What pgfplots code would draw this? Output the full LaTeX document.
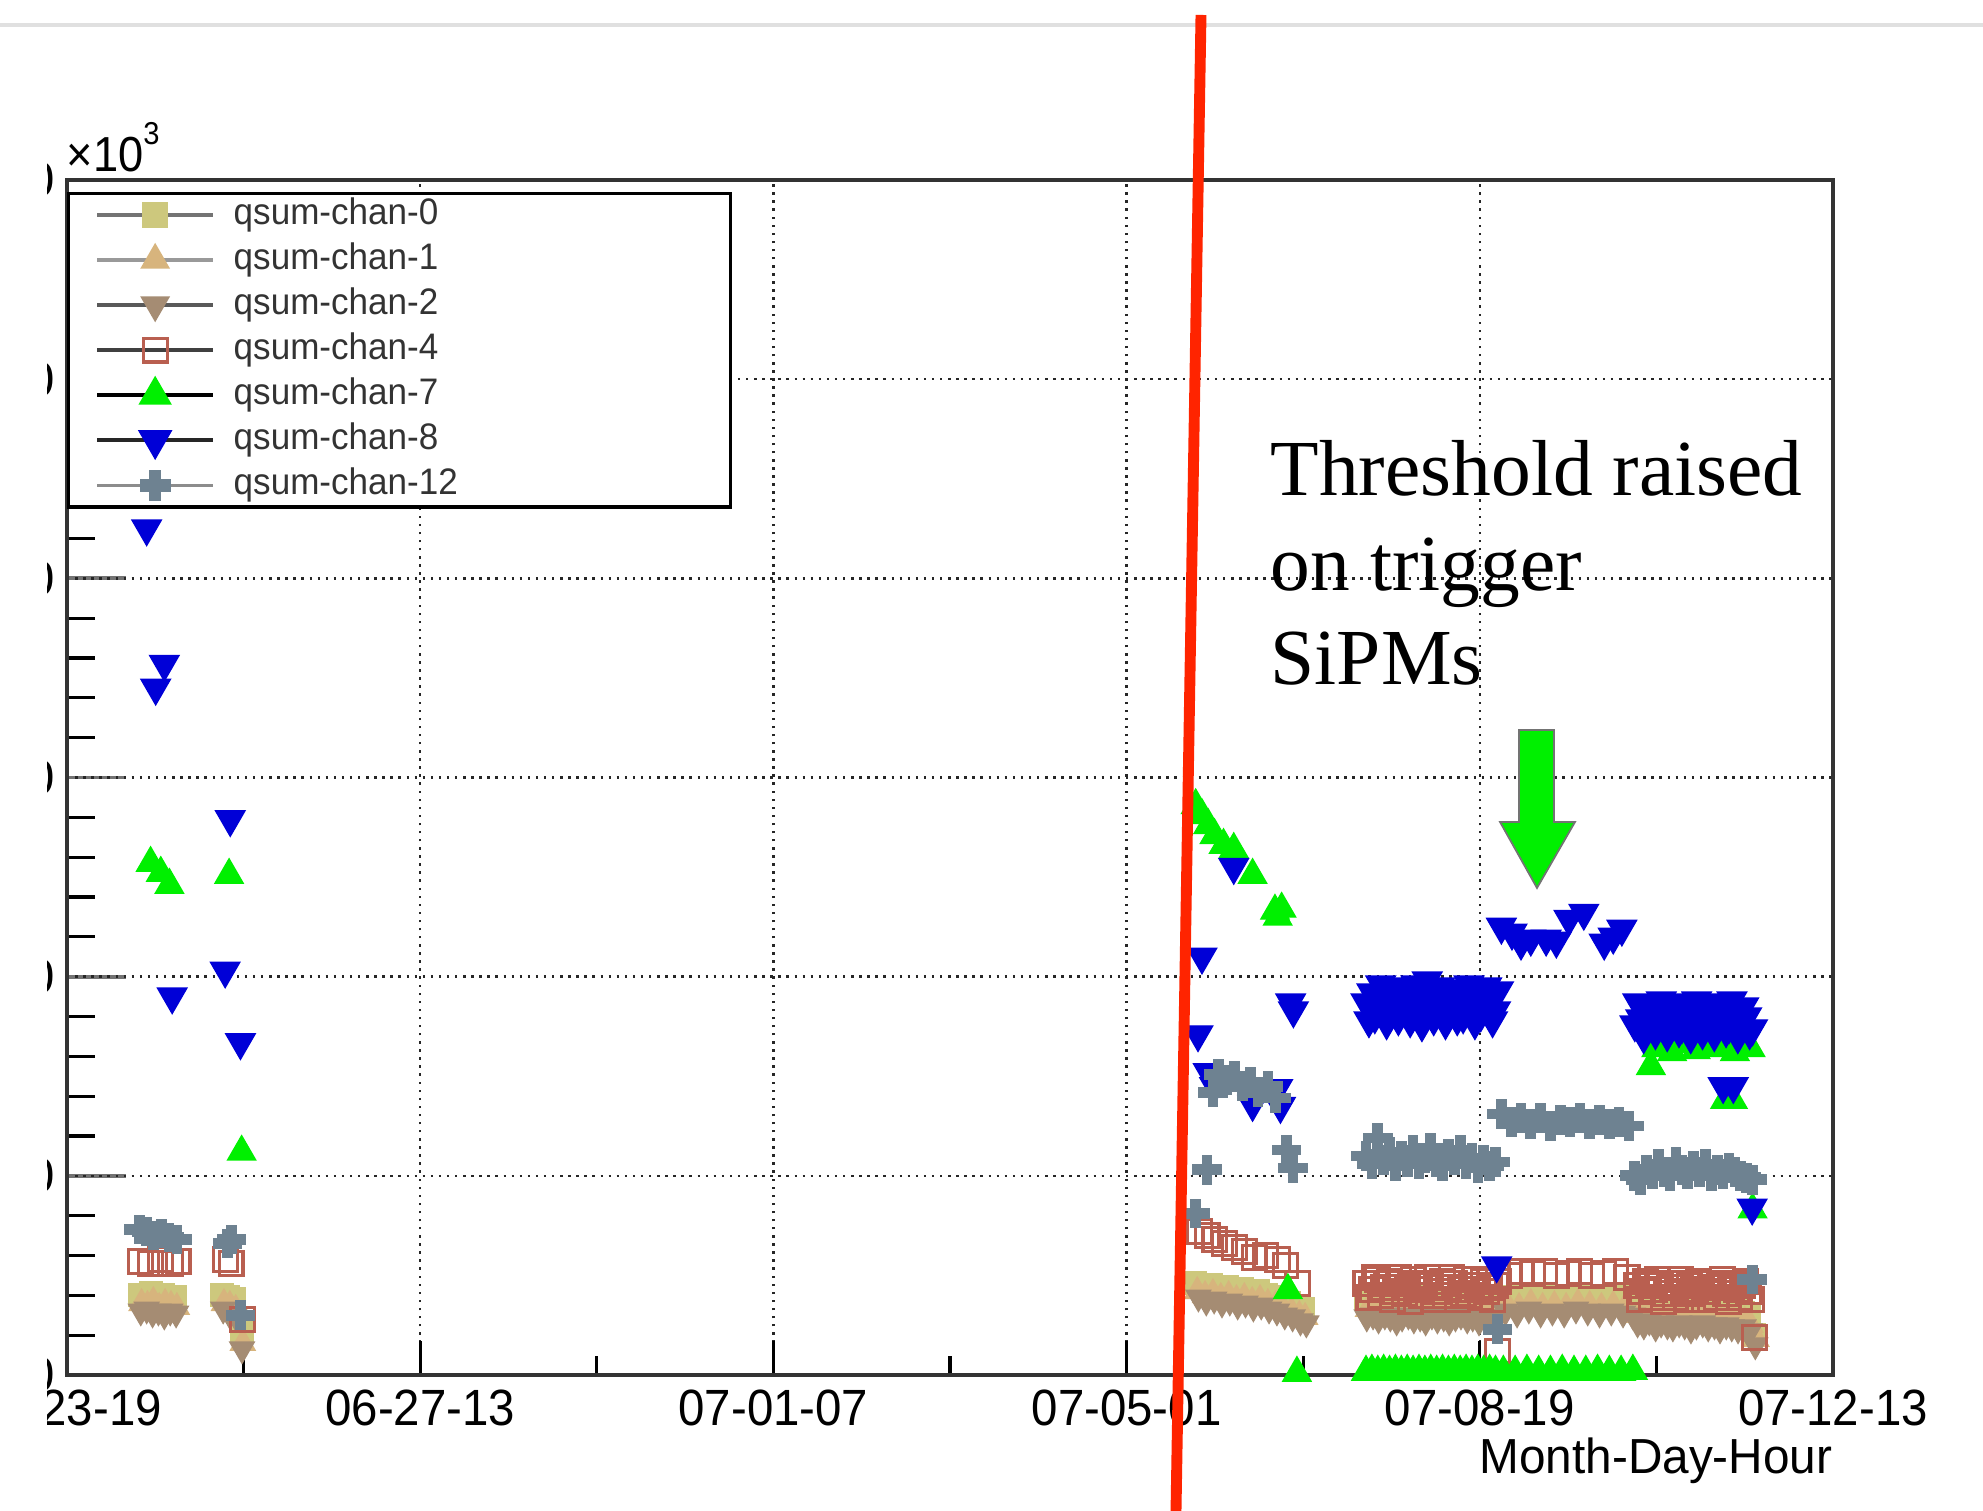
\documentclass[border=0pt]{standalone}
\usepackage{pgfplots}
\pgfplotsset{compat=1.18}
\usepackage{graphicx}
\usepackage{fontspec}
\setmainfont{Liberation Sans}
\newfontfamily\timesf{Liberation Serif}

\definecolor{c0}{RGB}{205,200,125}
\definecolor{c1}{RGB}{215,180,125}
\definecolor{c2}{RGB}{165,140,115}
\definecolor{c4}{RGB}{185,95,80}
\definecolor{c7}{RGB}{0,240,0}
\definecolor{c8}{RGB}{0,0,215}
\definecolor{c12}{RGB}{110,130,145}
\definecolor{redline}{RGB}{255,36,0}

\pgfdeclareplotmark{fcross}{%
  \pgfpathmoveto{\pgfqpoint{-0.33\pgfplotmarksize}{\pgfplotmarksize}}%
  \pgfpathlineto{\pgfqpoint{0.33\pgfplotmarksize}{\pgfplotmarksize}}%
  \pgfpathlineto{\pgfqpoint{0.33\pgfplotmarksize}{0.33\pgfplotmarksize}}%
  \pgfpathlineto{\pgfqpoint{\pgfplotmarksize}{0.33\pgfplotmarksize}}%
  \pgfpathlineto{\pgfqpoint{\pgfplotmarksize}{-0.33\pgfplotmarksize}}%
  \pgfpathlineto{\pgfqpoint{0.33\pgfplotmarksize}{-0.33\pgfplotmarksize}}%
  \pgfpathlineto{\pgfqpoint{0.33\pgfplotmarksize}{-\pgfplotmarksize}}%
  \pgfpathlineto{\pgfqpoint{-0.33\pgfplotmarksize}{-\pgfplotmarksize}}%
  \pgfpathlineto{\pgfqpoint{-0.33\pgfplotmarksize}{-0.33\pgfplotmarksize}}%
  \pgfpathlineto{\pgfqpoint{-\pgfplotmarksize}{-0.33\pgfplotmarksize}}%
  \pgfpathlineto{\pgfqpoint{-\pgfplotmarksize}{0.33\pgfplotmarksize}}%
  \pgfpathlineto{\pgfqpoint{-0.33\pgfplotmarksize}{0.33\pgfplotmarksize}}%
  \pgfpathclose
  \pgfusepathqfillstroke}

\pgfplotsset{limg/.style={legend image code/.code={%
  \draw[line width=0.9pt,#1] (0cm,0cm) -- (1.16cm,0cm);
  \draw[##1] plot coordinates {(0.58cm,0cm)};}}}

\newcommand\tl[1]{\scalebox{0.93}[1]{#1}}
\newcommand\lgent[1]{\makebox[4.7cm][l]{\scalebox{0.95}[1]{#1}}}

\begin{document}
\begin{tikzpicture}
\useasboundingbox (0,0) rectangle (19.83cm,15.11cm);
\draw[black!12, line width=1pt] (0,14.86cm) -- (19.83cm,14.86cm);
\begin{scope}
\clip (0.47cm,0) rectangle (19.83cm,15.11cm);
% y-axis ticks and labels
\begin{axis}[
  scale only axis, width=17.66cm, height=11.95cm,
  at={(0.67cm,1.36cm)}, anchor=south west,
  xmin=0, xmax=450, ymin=0, ymax=60,
  hide x axis,
  axis y line*=left,
  y axis line style={draw=none},
  ytick={0,10,...,60}, minor y tick num=4,
  tick align=inside,
  major tick length=0.59cm, minor tick length=0.28cm,
  every major tick/.append style={black!55,line width=1.1pt},
  every minor tick/.append style={black,line width=0.9pt},
  /pgf/number format/assume math mode=true,
  yticklabel style={font=\fontsize{14}{16}\selectfont, inner sep=0pt, xshift=-0.11cm},
]
\addplot[draw=none] coordinates {(0,0)};
\end{axis}
\begin{axis}[
  name=main,
  scale only axis, width=17.66cm, height=11.95cm,
  at={(0.67cm,1.36cm)}, anchor=south west,
  xmin=0, xmax=450, ymin=0, ymax=60,
  xtick={0,90,...,450}, minor x tick num=1,
  xticklabels={\tl{06-23-19},\tl{06-27-13},\tl{07-01-07},\tl{07-05-01},\tl{07-08-19},\tl{07-12-13}},
  xtick pos=bottom,
  tick align=inside,
  major tick length=0.34cm, minor tick length=0.19cm,
  xtick style={black, line width=0.9pt},
  ytick={10,20,...,50}, yticklabels={}, ytick style={draw=none},
  xmajorgrids, ymajorgrids,
  major grid style={black!85, line width=0.7pt, dash pattern=on 0.7pt off 1.6pt},
  axis line style={black!80, line width=1pt},
  xticklabel style={font=\fontsize{14.5}{16}\selectfont, inner sep=0pt, yshift=-0.14cm},
  xlabel={\scalebox{0.97}[1]{Month-Day-Hour}},
  xlabel style={at={(axis description cs:1,0)}, anchor=north east, inner sep=0pt, yshift=-0.62cm, font=\fontsize{14}{16}\selectfont},
  legend cell align=left,
  legend style={at={(0,1)}, anchor=north west, yshift=-0.12cm, draw=black, line width=0.9pt, fill=white,
    inner xsep=0.27cm, inner ysep=0.05cm, column sep=0.19cm, row sep=0.12cm,
    font=\fontsize{10.5}{12}\selectfont, text=black!80,
    nodes={inner sep=0pt, text height=0.26cm, text depth=0.07cm}},
]
% chan-0
\addplot[only marks, mark=square*, mark size=3.2pt, color=c0, limg=black!55] coordinates {
(18.5,4.0)(20,3.9)(21.5,4.1)(23,3.9)(24.5,4.0)(26,3.8)(27.5,3.9)
(39.5,4.0)(41,3.9)(42.5,3.8)(44.5,2.2)
(287.5,4.6)(289.5,4.4)(291.5,4.5)(293.5,4.3)(295.5,4.4)(297.5,4.2)(299.5,4.3)(301.5,4.1)(303.5,4.2)(305.5,4.0)(307.5,3.9)(309.5,3.8)(311.5,3.6)(313.5,3.4)(315,3.3)
(331,3.8)(332.5,3.7)(334,3.9)(335.5,3.7)(337,3.8)(338.5,3.6)(340,3.8)(341.5,3.7)(343,3.9)(344.5,3.7)(346,3.8)(347.5,3.6)(349,3.8)(350.5,3.7)(352,3.8)(353.5,3.6)(355,3.8)(356.5,3.7)(358,3.9)(359.5,3.7)(361,3.8)(362.5,3.6)(364,3.7)
(366,3.9)(369,3.8)(372,3.9)(375,3.8)(378,3.9)(381,3.8)(384,3.9)(387,3.8)(390,3.9)(393,3.8)(396,3.9)(399,3.8)
(400,3.4)(401.5,3.3)(403,3.5)(404.5,3.3)(406,3.4)(407.5,3.2)(409,3.4)(410.5,3.3)(412,3.4)(413.5,3.2)(415,3.3)(416.5,3.4)(418,3.2)(419.5,3.3)(421,3.4)(422.5,3.2)(424,3.3)(425.5,3.2)(427,3.1)(428.5,3.0)(430,2.0)
};
\addlegendentry{\lgent{qsum-chan-0}}
% chan-1
\addplot[only marks, mark=triangle*, mark size=4pt, color=c1, limg=black!40] coordinates {
(19,3.6)(20.5,3.5)(22,3.7)(23.5,3.4)(25,3.6)(26.5,3.5)(28,3.4)
(40,3.6)(41.5,3.5)(43,3.3)(44.8,1.6)
(288,4.2)(290,4.0)(292,4.1)(294,3.9)(296,4.0)(298,3.8)(300,3.9)(302,3.7)(304,3.8)(306,3.6)(308,3.5)(310,3.3)(312,3.2)(314,3.0)(315.5,2.9)
(331.5,3.3)(333,3.2)(334.5,3.4)(336,3.1)(337.5,3.3)(339,3.2)(340.5,3.4)(342,3.1)(343.5,3.3)(345,3.2)(346.5,3.0)(348,3.3)(349.5,3.1)(351,3.2)(352.5,3.4)(354,3.1)(355.5,3.3)(357,3.2)(358.5,3.0)(360,3.3)(361.5,3.1)(363,3.2)(364.5,3.3)
(367,3.5)(370,3.4)(373,3.6)(376,3.4)(379,3.5)(382,3.4)(385,3.6)(388,3.5)(391,3.4)(394,3.5)(397,3.4)
(400.5,3.0)(402,2.9)(403.5,3.1)(405,2.8)(406.5,3.0)(408,2.9)(409.5,2.8)(411,3.0)(412.5,2.9)(414,2.7)(415.5,2.9)(417,3.0)(418.5,2.8)(420,2.9)(421.5,2.7)(423,2.9)(424.5,2.8)(426,2.6)(427.5,2.7)(429,2.5)(430.5,1.8)
};
\addlegendentry{\lgent{qsum-chan-1}}
% chan-2
\addplot[only marks, mark=triangle*, mark size=4pt, mark options={rotate=180}, color=c2, limg=black!65] coordinates {
(18.8,3.2)(20.3,3.3)(21.8,3.1)(23.3,3.2)(24.8,3.0)(26.3,3.2)(27.8,3.1)
(39.8,3.3)(41.3,3.1)(42.8,3.0)(44.6,1.3)
(288.3,3.9)(290.3,3.7)(292.3,3.8)(294.3,3.6)(296.3,3.7)(298.3,3.5)(300.3,3.6)(302.3,3.4)(304.3,3.5)(306.3,3.3)(308.3,3.2)(310.3,3.0)(312.3,2.9)(314.3,2.7)(315.8,2.6)
(331.2,2.9)(332.8,3.0)(334.2,2.8)(335.8,3.0)(337.2,2.9)(338.8,2.7)(340.2,2.9)(341.8,3.0)(343.2,2.8)(344.8,2.9)(346.2,2.7)(347.8,3.0)(349.2,2.8)(350.8,2.9)(352.2,2.7)(353.8,2.9)(355.2,3.0)(356.8,2.8)(358.2,2.9)(359.8,2.7)(361.2,2.9)(362.8,2.8)(364.2,2.9)
(366.5,3.2)(369.5,3.1)(372.5,3.3)(375.5,3.1)(378.5,3.2)(381.5,3.1)(384.5,3.3)(387.5,3.2)(390.5,3.1)(393.5,3.2)(396.5,3.1)(399,3.0)
(400.2,2.6)(401.8,2.5)(403.2,2.7)(404.8,2.4)(406.2,2.6)(407.8,2.5)(409.2,2.4)(410.8,2.6)(412.2,2.5)(413.8,2.3)(415.2,2.5)(416.8,2.6)(418.2,2.4)(419.8,2.5)(421.2,2.3)(422.8,2.5)(424.2,2.4)(425.8,2.3)(427.2,2.4)(428.8,2.2)(430.2,1.5)
};
\addlegendentry{\lgent{qsum-chan-2}}
% chan-4
\addplot[only marks, mark=square, mark size=3.4pt, mark options={line width=0.9pt}, color=c4, limg=black!75] coordinates {
(18.8,5.7)(21.3,5.6)(23.8,5.8)(26.3,5.6)(28.3,5.7)
(40.3,5.8)(41.8,5.6)(44.8,2.8)
(288.5,7.2)(290.5,7.0)(292.5,6.8)(295,6.6)(297.5,6.4)(300,6.2)(302.5,5.9)(305.5,6.0)(308.5,5.8)(310.5,5.5)(313.5,4.6)
(331,4.6)(332.5,4.3)(334,4.8)(335.5,4.4)(337,4.7)(338.5,4.2)(340,4.6)(341.5,4.4)(343,4.8)(344.5,4.3)(346,4.6)(347.5,4.5)(349,4.2)(350.5,4.7)(352,4.4)(353.5,4.6)(355,4.3)(356.5,4.8)(358,4.5)(359.5,4.3)(361,4.7)(362.5,4.4)(364,4.5)
(331.75,3.9)(333.25,4.9)(334.75,4.0)(336.25,4.6)(337.75,3.8)(339.25,4.9)(340.75,4.1)(342.25,3.7)(343.75,4.5)(345.25,4.0)(346.75,4.9)(348.25,3.8)(349.75,4.4)(351.25,4.0)(352.75,4.9)(354.25,3.8)(355.75,4.1)(357.25,4.0)(358.75,4.8)(360.25,3.9)(361.75,4.2)(363.25,3.8)(364.75,4.7)
(364.5,1.2)
(367.5,5.0)(370.5,5.2)(373.5,5.1)(376.5,5.2)(379.5,5.0)(382.5,5.1)(385.5,5.2)(388.5,5.0)(391.5,5.1)(394.5,5.2)(397.5,4.9)
(400,4.5)(401.5,4.2)(403,4.6)(404.5,4.3)(406,4.5)(407.5,4.1)(409,4.4)(410.5,4.6)(412,4.2)(413.5,4.5)(415,4.3)(416.5,4.6)(418,4.2)(419.5,4.4)(421,4.5)(422.5,4.1)(424,4.4)(425.5,4.3)(427,4.5)(428.5,4.2)(430,1.9)
(400.75,3.8)(402.25,4.7)(403.75,3.9)(405.25,4.8)(406.75,3.7)(408.25,4.6)(409.75,3.9)(411.25,4.8)(412.75,3.8)(414.25,4.1)(415.75,4.7)(417.25,3.8)(418.75,4.6)(420.25,3.9)(421.75,4.8)(423.25,3.7)(424.75,4.6)(426.25,3.9)(427.75,4.7)(429.25,3.8)
};
\addlegendentry{\lgent{qsum-chan-4}}
% chan-7
\addplot[only marks, mark=triangle*, mark size=4.6pt, color=c7, limg=black] coordinates {
(21.3,25.7)(23.9,25.2)(26.1,24.6)(41.3,25.1)(44.5,11.2)
(287.6,28.6)(289.2,28.1)(290.8,27.6)(292.4,27.1)(294.7,26.6)(297.3,26.4)(302.1,25.1)(307.8,23.3)(308.5,23.0)(309.5,23.4)(311.1,4.25)(313.4,0.1)
(331,0.15)(332.5,0.2)(334,0.15)(335.5,0.2)(337,0.15)(338.5,0.2)(340,0.15)(341.5,0.2)(343,0.15)(344.5,0.2)(346,0.15)(347.5,0.2)(349,0.15)(350.5,0.2)(352,0.15)(353.5,0.2)(355,0.15)(356.5,0.2)(358,0.15)(359.5,0.2)(361,0.15)(362.5,0.2)(364,0.15)
(366,0.15)(369,0.15)(372,0.2)(375,0.15)(378,0.15)(381,0.2)(384,0.15)(387,0.15)(390,0.2)(393,0.15)(396,0.15)(399,0.2)
(403.6,15.5)(405,16.4)(407,16.8)(409,16.2)(411,16.6)(413,16.9)(415,16.3)(417,16.7)(419,16.4)(421,16.8)(423,16.5)(425,16.2)(427,16.6)(429,16.4)
(422.5,13.8)(424.5,13.8)(429.5,8.3)
};
\addlegendentry{\lgent{qsum-chan-7}}
% chan-8
\addplot[only marks, mark=triangle*, mark size=4.8pt, mark options={rotate=180}, color=c8, limg=black!85] coordinates {
(20.3,42.5)(22.6,34.5)(24.8,35.7)(26.8,19.0)(40.3,20.3)(41.6,27.9)(44.2,16.7)
(288.2,17.1)(289.2,21.0)(290.8,15.2)(292.4,14.5)(297.3,25.5)(302.1,13.6)(308.5,14.4)(309.2,13.5)(311.8,18.7)(312.5,18.3)
(331,18.7)(332.5,19.2)(334,18.3)(335.5,19.0)(337,18.6)(338.5,19.3)(340,18.4)(341.5,18.9)(343,18.2)(344.5,19.1)(346,18.7)(346.6,19.8)(347.5,18.5)(349,19.2)(350.5,18.3)(352,18.9)(353.5,18.6)(355,19.3)(356.5,18.4)(358,18.8)(359.5,19.2)(361,18.5)(362.5,19.0)(364,18.3)
(331.75,17.8)(333.25,18.0)(334.75,19.6)(336.25,17.7)(337.75,19.5)(339.25,17.9)(340.75,19.4)(342.25,17.8)(343.75,19.6)(345.25,17.6)(348.25,17.9)(349.75,19.5)(351.25,17.7)(352.75,19.4)(354.25,17.9)(355.75,18.0)(357.25,19.6)(358.75,17.7)(360.25,18.1)(361.75,19.5)(363.25,17.8)(364.75,19.3)
(364.3,5.5)
(365.5,22.5)(368.2,22.2)(370.5,21.7)(373,21.9)(376.9,21.9)(379.5,21.8)(382.7,22.9)(386.5,23.2)(391.7,21.7)(394,22.0)(396.2,22.4)
(399.5,17.6)(401,17.9)(402.5,17.4)(404,18.3)(405.5,17.8)(407,18.5)(408.5,17.7)(410,18.2)(411.5,17.5)(413,18.4)(414.5,17.9)(416,18.3)(417.5,17.6)(419,18.5)(420.5,17.8)(422,18.2)(423.5,17.5)(425,18.3)(426.5,17.7)(428,18.0)(429.5,17.4)
(400.25,18.7)(401.75,17.0)(403.25,18.6)(404.75,17.2)(406.25,18.8)(407.75,17.1)(409.25,18.7)(410.75,17.3)(412.25,18.6)(413.75,17.0)(415.25,18.8)(416.75,17.2)(418.25,18.7)(419.75,17.1)(421.25,18.6)(422.75,17.3)(424.25,18.8)(425.75,17.0)(427.25,18.5)(428.75,17.2)
(422,14.5)(424.6,14.5)(429.4,8.4)
};
\addlegendentry{\lgent{qsum-chan-8}}
% chan-12
\addplot[only marks, mark=fcross, mark size=4pt, color=c12, limg=black!45] coordinates {
(18.4,7.3)(20.3,7.2)(22,7.0)(24,7.1)(26,6.9)(28,6.8)(40.9,6.6)(41.9,6.8)(44.2,3.0)
(287.6,8.1)(290.5,10.3)(292,14.2)(293.5,15.1)(295.5,14.8)(297.5,15.0)(299.5,14.5)(301.5,14.7)(303.5,14.2)(306,14.5)(308,13.9)(310.8,11.3)(312.4,10.4)
(331,11.0)(332.5,10.6)(334,11.9)(335.5,10.8)(337,11.2)(338.5,10.5)(340,11.0)(341.5,10.7)(343,11.3)(344.5,10.6)(346,10.9)(347.5,11.4)(349,10.7)(350.5,10.5)(352,11.1)(353.5,10.8)(355,11.3)(356.5,10.6)(358,10.9)(359.5,10.4)(361,10.8)(362.5,10.5)(364,10.7)
(364.5,2.3)
(365.5,13.1)(368,12.7)(370.5,12.9)(373,12.6)(375.5,12.9)(378,12.5)(380.5,12.8)(383,12.7)(385.5,12.9)(388,12.6)(390.5,12.8)(393,12.6)(395.5,12.7)(398,12.5)
(399.5,10.0)(401,9.8)(402.5,10.3)(404,10.1)(405.5,10.6)(407,10.2)(408.5,10.0)(410,10.7)(411.5,10.3)(413,10.1)(414.5,10.5)(416,10.2)(417.5,10.6)(419,10.0)(420.5,10.3)(422,10.1)(423.5,10.4)(425,10.2)(426.5,10.0)(428,9.9)(429.5,9.8)
(429.4,4.8)
};
\addlegendentry{\lgent{qsum-chan-12}}
\end{axis}
\end{scope}
% x10^3
\node[anchor=base west, inner sep=0pt, font=\fontsize{14}{16}\selectfont] at (0.66cm,13.39cm) {\scalebox{0.92}[1]{×10\raisebox{0.55em}{\fontsize{9}{10}\selectfont 3}}};
% annotations
\draw[redline, line width=3.1pt] (12.01cm,14.96cm) -- (11.76cm,0cm);
\filldraw[fill=c7, draw=black!55, line width=0.5pt]
  (15.19cm,7.81cm) -- (15.54cm,7.81cm) -- (15.54cm,6.89cm) -- (15.75cm,6.89cm) -- (15.37cm,6.23cm) -- (15.00cm,6.89cm) -- (15.19cm,6.89cm) -- cycle;
\node[anchor=base west, inner sep=0pt, font=\timesf\fontsize{22.6}{27}\selectfont] at (12.70cm,10.15cm) {Threshold raised};
\node[anchor=base west, inner sep=0pt, font=\timesf\fontsize{22.6}{27}\selectfont] at (12.70cm,9.20cm) {on trigger};
\node[anchor=base west, inner sep=0pt, font=\timesf\fontsize{22.6}{27}\selectfont] at (12.70cm,8.26cm) {SiPMs};
\end{tikzpicture}
\end{document}
